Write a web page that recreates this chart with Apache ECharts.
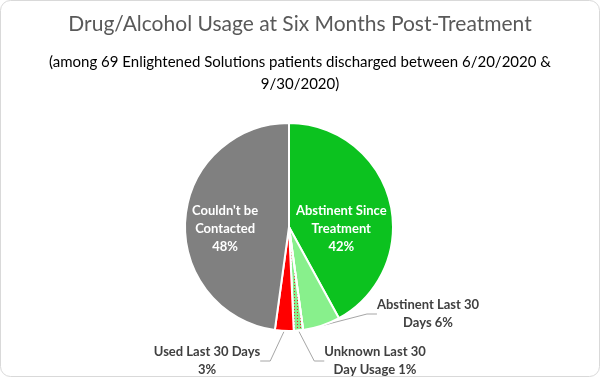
<!DOCTYPE html>
<html>
<head>
<meta charset="utf-8">
<script src="https://cdn.jsdelivr.net/npm/echarts@6/dist/echarts.min.js"></script>
<style>
html,body{margin:0;padding:0;background:#fff;}
#chart{width:600px;height:377px;}
</style>
</head>
<body>
<div id="chart"></div>
<script>
// Data (patient counts out of 69, read from the percentages shown)
const categories = ['Abstinent Since Treatment', 'Abstinent Last 30 Days', 'Unknown Last 30 Day Usage', 'Used Last 30 Days', "Couldn't be Contacted"];
const patientCounts = [29, 4, 1, 2, 33];
const labelWrap = ['Abstinent Since\nTreatment\n', 'Abstinent Last 30\nDays ', 'Unknown Last 30\nDay Usage ', 'Used Last 30 Days\n', "Couldn't be\nContacted\n"];
const sliceColors = ['#0CC21F', '#88F08C', '#88F08C', '#FF0000', '#808080'];
const titleText = 'Drug/Alcohol Usage at Six Months Post-Treatment';
const subtitleText = '(among 69 Enlightened Solutions patients discharged between 6/20/2020 &\n9/30/2020)';

const FONT = 'Lato, "Open Sans", sans-serif';
const chart = echarts.init(document.getElementById('chart'));

const insideOffsets = { 0: [-1, 15], 4: [-9, 6] };
const outsideLayout = {
  1: { x: 428, y: 314 },
  2: { x: 375, y: 361 },
  3: { x: 207, y: 361 }
};

const data = categories.map((name, i) => {
  const item = {
    name: name,
    value: patientCounts[i],
    itemStyle: { color: sliceColors[i] }
  };
  if (i === 0 || i === 4) {
    item.label = { position: 'inside', color: '#ffffff', offset: insideOffsets[i] };
    item.labelLine = { show: false };
  } else {
    item.label = { position: 'outside', color: '#404040' };
    item.labelLine = { show: true };
  }
  if (i === 2) {
    item.itemStyle.decal = {
      symbol: 'rect',
      color: '#E8202A',
      symbolSize: 1,
      dashArrayX: [[1, 2]],
      dashArrayY: [1, 2],
      rotation: 0
    };
  }
  return item;
});

chart.setOption({
  backgroundColor: '#ffffff',
  animation: false,
  graphic: [{
    type: 'rect',
    shape: { x: 0.5, y: 0.5, width: 599, height: 376, r: 10 },
    style: { fill: 'none', stroke: '#d9d9d9', lineWidth: 1 },
    silent: true
  }],
  title: [{
    text: titleText,
    left: 'center',
    top: 9,
    textStyle: { fontFamily: FONT, fontSize: 21, fontWeight: 'normal', color: '#595959' }
  }, {
    text: subtitleText,
    left: 'center',
    top: 46,
    textStyle: { fontFamily: FONT, fontSize: 15, fontWeight: 'normal', color: '#000000', lineHeight: 22 }
  }],
  series: [{
    type: 'pie',
    center: [289, 227],
    radius: 104,
    startAngle: 90,
    clockwise: true,
    percentPrecision: 0,
    avoidLabelOverlap: false,
    itemStyle: { borderColor: '#ffffff', borderWidth: 2 },
    label: {
      fontFamily: FONT,
      fontSize: 13,
      fontWeight: 'bold',
      lineHeight: 18,
      align: 'center',
      formatter: p => labelWrap[p.dataIndex] + p.percent + '%'
    },
    labelLine: {
      lineStyle: { color: '#a6a6a6', width: 1 },
      length: 10,
      length2: 10
    },
    labelLayout: function (params) {
      const pos = outsideLayout[params.dataIndex];
      if (!pos) return {};
      return { x: pos.x, y: pos.y, align: 'center', verticalAlign: 'middle' };
    },
    data: data
  }]
});
</script>
</body>
</html>
